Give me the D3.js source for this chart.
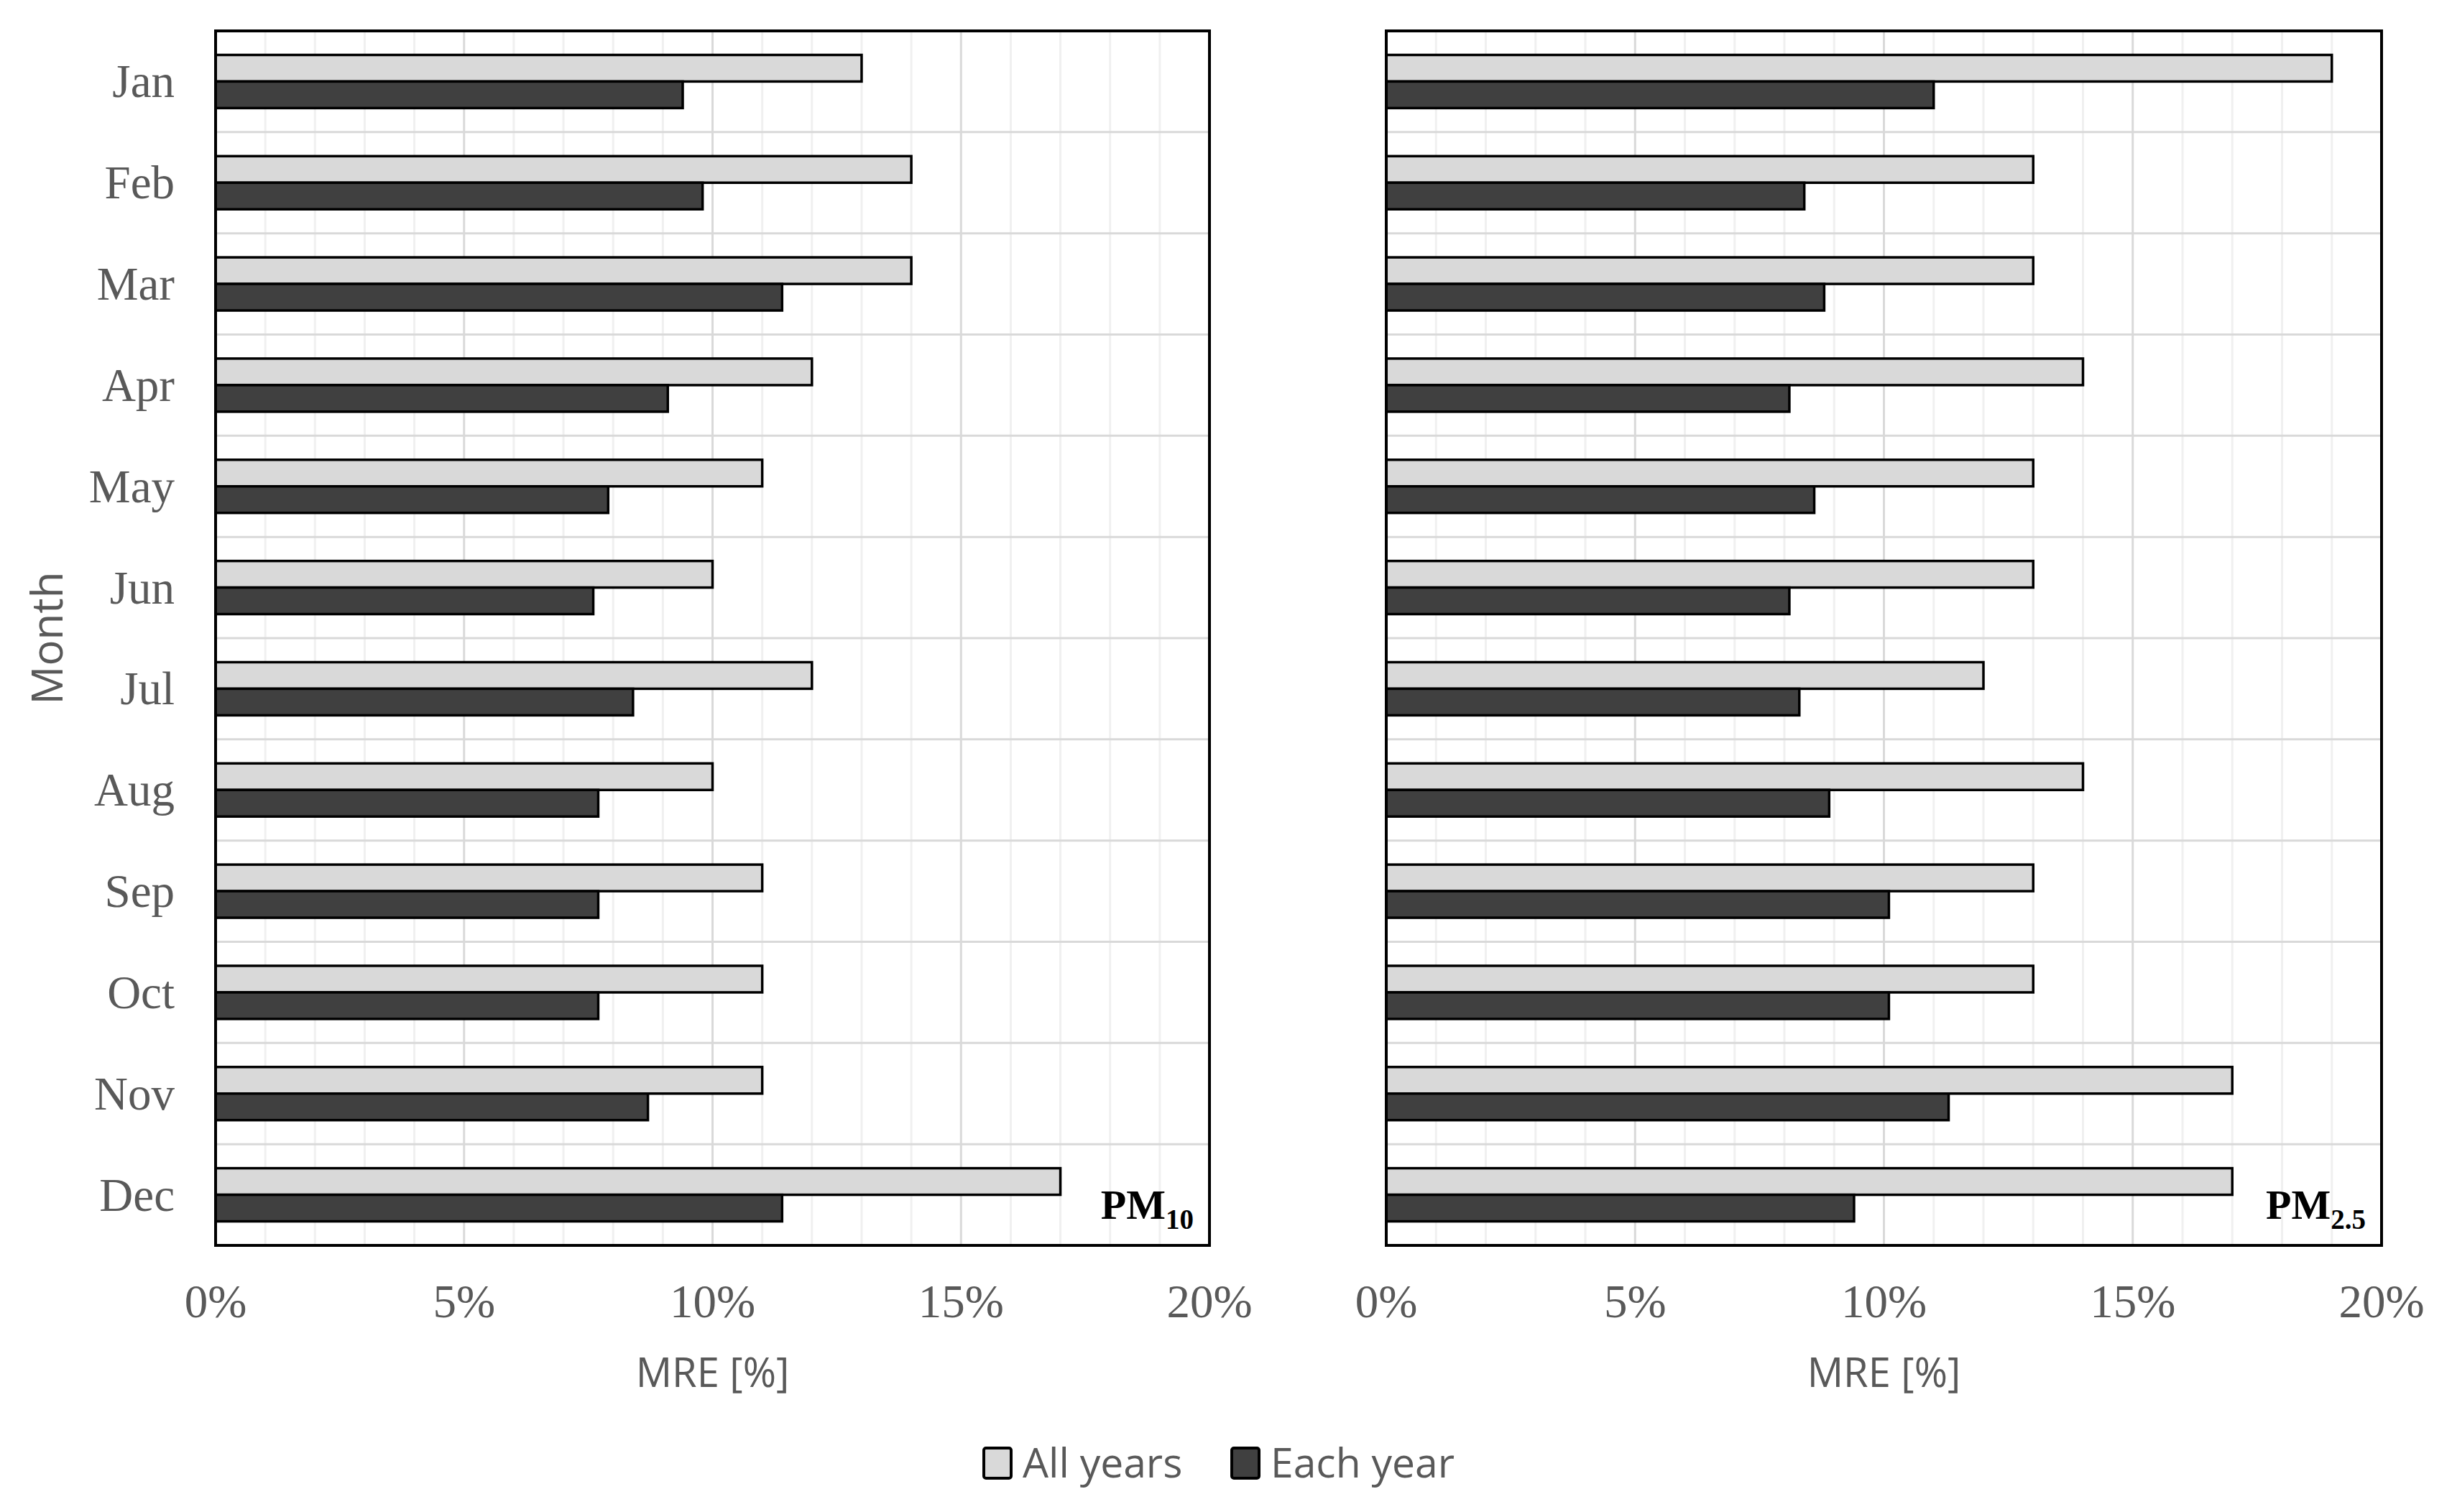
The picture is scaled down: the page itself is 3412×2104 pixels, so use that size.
<!DOCTYPE html>
<html>
<head>
    <meta http-equiv="content-type" content="text/html; charset=utf-8" />
    <style>
        body { margin: 0; background: #fff; }
        svg { display: block; }
    </style>
</head>
<body>
    <svg id="chart" width="3412" height="2104"></svg>

    <script src="https://d3js.org/d3.v7.min.js"></script>
    <script>
        // data (MRE in %)
        const months = ['Jan', 'Feb', 'Mar', 'Apr', 'May', 'Jun', 'Jul', 'Aug', 'Sep', 'Oct', 'Nov', 'Dec']
        const seriesNames = ['All years', 'Each year']
        const pm10AllYears = [13, 14, 14, 12, 11, 10, 12, 10, 11, 11, 11, 17]
        const pm10EachYear = [9.4, 9.8, 11.4, 9.1, 7.9, 7.6, 8.4, 7.7, 7.7, 7.7, 8.7, 11.4]
        const pm25AllYears = [19, 13, 13, 14, 13, 13, 12, 14, 13, 13, 17, 17]
        const pm25EachYear = [11.0, 8.4, 8.8, 8.1, 8.6, 8.1, 8.3, 8.9, 10.1, 10.1, 11.3, 9.4]
        const xTicks = [0, 5, 10, 15, 20]

        const colors = { 'All years': '#d9d9d9', 'Each year': '#404040' }
        const grey = '#595959'
        const serif = '"Liberation Serif", "Times New Roman", serif'
        const sans = '"Open Sans", "Liberation Sans", sans-serif'

        const svg = d3.select('#chart')
        const plotTop = 43, plotBottom = 1733

        const panels = [
            { x0: 300, x1: 1683, all: pm10AllYears, each: pm10EachYear, label: 'PM', sub: '10' },
            { x0: 1929, x1: 3314, all: pm25AllYears, each: pm25EachYear, label: 'PM', sub: '2.5' }
        ]

        const y = d3.scaleBand()
            .domain(months)
            .range([plotTop, plotBottom])
            .paddingInner(0.475)
            .paddingOuter(0.2375)

        const ySub = d3.scaleBand()
            .domain(seriesNames)
            .range([0, y.bandwidth()])

        panels.forEach((p, pi) => {
            const x = d3.scaleLinear().domain([0, 20]).range([p.x0, p.x1])
            const g = svg.append('g')

            // minor vertical grid (every 1%)
            g.selectAll('.minor')
                .data(d3.range(1, 20).filter(v => v % 5 !== 0))
                .join('line')
                .attr('x1', d => x(d)).attr('x2', d => x(d))
                .attr('y1', plotTop).attr('y2', plotBottom)
                .attr('stroke', '#f0f0f0').attr('stroke-width', 3)

            // major vertical grid
            g.selectAll('.major')
                .data(xTicks.slice(1, -1))
                .join('line')
                .attr('x1', d => x(d)).attr('x2', d => x(d))
                .attr('y1', plotTop).attr('y2', plotBottom)
                .attr('stroke', '#d9d9d9').attr('stroke-width', 3)

            // horizontal grid between months
            g.selectAll('.hgrid')
                .data(months.slice(1))
                .join('line')
                .attr('x1', p.x0).attr('x2', p.x1)
                .attr('y1', d => y(d) - y.step() * y.paddingOuter())
                .attr('y2', d => y(d) - y.step() * y.paddingOuter())
                .attr('stroke', '#d9d9d9').attr('stroke-width', 3)

            // bars
            const rows = months.map((m, i) => ({ month: m, 'All years': p.all[i], 'Each year': p.each[i] }))
            const grp = g.selectAll('.grp')
                .data(rows)
                .join('g')
                .attr('transform', d => `translate(0,${y(d.month)})`)

            grp.selectAll('rect')
                .data(d => seriesNames.map(s => ({ s, v: d[s] })))
                .join('rect')
                .attr('x', x(0))
                .attr('y', d => ySub(d.s))
                .attr('width', d => x(d.v) - x(0))
                .attr('height', ySub.bandwidth())
                .attr('fill', d => colors[d.s])
                .attr('stroke', '#000')
                .attr('stroke-width', 3.5)

            // panel frame
            g.append('rect')
                .attr('x', p.x0).attr('y', plotTop)
                .attr('width', p.x1 - p.x0).attr('height', plotBottom - plotTop)
                .attr('fill', 'none').attr('stroke', '#000').attr('stroke-width', 4)

            // x tick labels
            g.selectAll('.xt')
                .data(xTicks)
                .join('text')
                .attr('x', d => x(d))
                .attr('y', 1833)
                .attr('text-anchor', 'middle')
                .attr('font-family', serif)
                .attr('font-size', 65)
                .attr('fill', grey)
                .text(d => d + '%')

            // x axis title
            g.append('text')
                .attr('x', (p.x0 + p.x1) / 2)
                .attr('y', 1930)
                .attr('text-anchor', 'middle')
                .attr('font-family', sans)
                .attr('font-size', 56)
                .attr('fill', grey)
                .text('MRE [%]')

            // panel tag
            const tag = g.append('text')
                .attr('x', p.x1 - 22)
                .attr('y', 1696)
                .attr('text-anchor', 'end')
                .attr('font-family', serif)
                .attr('font-weight', 'bold')
                .attr('font-size', 58)
                .attr('fill', '#000')
            tag.append('tspan').text(p.label)
            tag.append('tspan').attr('font-size', 39).attr('dy', 14).text(p.sub)

            // month labels only on the left panel
            if (pi === 0) {
                g.selectAll('.yt')
                    .data(months)
                    .join('text')
                    .attr('x', 243)
                    .attr('y', d => y(d) + y.bandwidth() / 2 + 22)
                    .attr('text-anchor', 'end')
                    .attr('font-family', serif)
                    .attr('font-size', 65)
                    .attr('fill', grey)
                    .text(d => d)
            }
        })

        // y axis title
        svg.append('text')
            .attr('transform', `translate(87,${(plotTop + plotBottom) / 2}) rotate(-90)`)
            .attr('text-anchor', 'middle')
            .attr('font-family', sans)
            .attr('font-size', 60)
            .attr('fill', grey)
            .text('Month')

        // legend
        const legend = svg.append('g')
        const legendX = [1369, 1714]
        seriesNames.forEach((s, i) => {
            legend.append('rect')
                .attr('x', legendX[i]).attr('y', 2015)
                .attr('width', 38).attr('height', 42)
                .attr('rx', 3)
                .attr('fill', colors[s])
                .attr('stroke', '#000')
                .attr('stroke-width', 4)
            legend.append('text')
                .attr('x', legendX[i] + 54)
                .attr('y', 2056)
                .attr('font-family', sans)
                .attr('font-size', 57)
                .attr('fill', grey)
                .text(s)
        })
    </script>
</body>
</html>
